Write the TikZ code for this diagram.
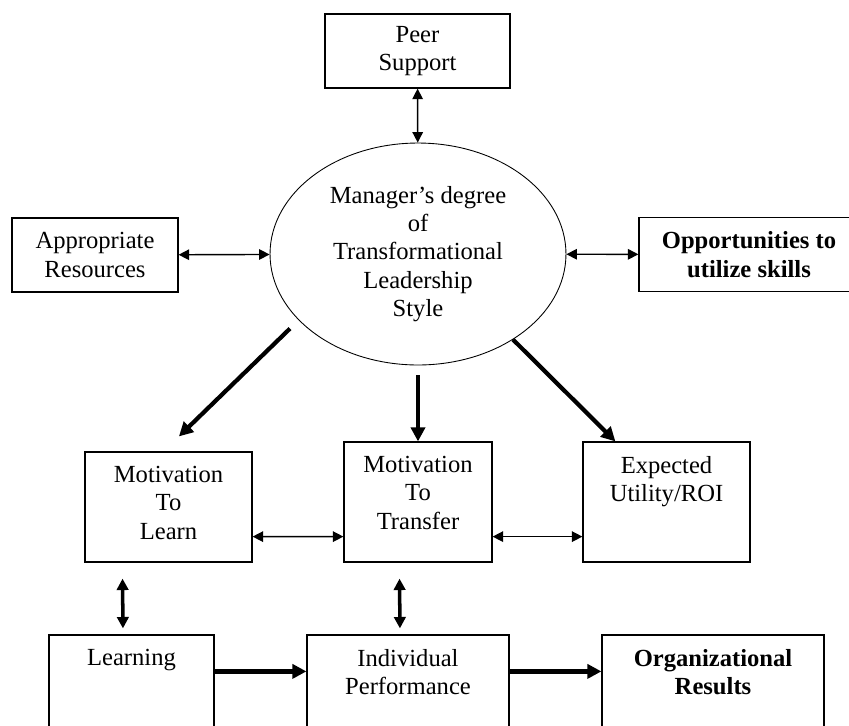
\documentclass[tikz,border=0pt]{standalone}
\usepackage{fontspec}
\setmainfont{Liberation Serif}
\usetikzlibrary{shapes,arrows.meta,positioning,calc}

\begin{document}
\begin{tikzpicture}[
  x=0.02cm, y=-0.02cm,
  every node/.style={font=\fontsize{14}{16.1}\selectfont},
  box/.style={rectangle, draw, line width=0.7pt, inner sep=0pt, align=center},
  lbl/.style={anchor=north, align=center, inner sep=0pt},
  oval/.style={ellipse, draw, line width=0.5pt, inner sep=0pt, align=center,
               minimum width=5.92cm, minimum height=4.44cm},
  pair/.style={line width=0.8pt, {Triangle[length=6pt,width=6pt]}-{Triangle[length=6pt,width=6pt]}},
  link/.style={line width=2pt, {Triangle[length=6.5pt,width=6.5pt]}-{Triangle[length=6.5pt,width=6.5pt]}},
  push/.style={line width=2.4pt, -{Triangle[length=8pt,width=8pt]}}
]
  \useasboundingbox (0,0) rectangle (849,725);
  \clip (0,0) rectangle (849,725);

  % top: leadership and its three supports
  \node[box, minimum width=3.7cm, minimum height=1.48cm] (peer) at (417.5,51) {Peer\\Support};
  \node[oval] (mgr) at (418,254) {Manager’s degree\\of\\Transformational\\Leadership\\Style};
  \node[box, minimum width=3.32cm, minimum height=1.48cm] (res) at (95,255) {Appropriate\\Resources};
  \node[box, minimum width=4.4cm, minimum height=1.48cm,
        font=\fontsize{14}{16.1}\selectfont\bfseries] (opp) at (749,254.5) {Opportunities to\\utilize skills};

  % middle row
  \node[box, minimum width=3.34cm, minimum height=2.2cm] (mtl) at (168.5,507) {};
  \node[lbl] (mtl-t) at ([yshift=-0.29cm]mtl.north) {Motivation\\To\\Learn};
  \node[box, minimum width=2.96cm, minimum height=2.4cm] (mtt) at (418,502) {};
  \node[lbl] (mtt-t) at ([yshift=-0.29cm]mtt.north) {Motivation\\To\\Transfer};
  \node[box, minimum width=3.34cm, minimum height=2.4cm] (eu) at (666.5,502) {};
  \node[lbl] (eu-t) at ([yshift=-0.29cm]eu.north) {Expected\\Utility/ROI};

  % bottom row
  \node[box, minimum width=3.3cm, minimum height=2.2cm] (lrn) at (131.5,690) {};
  \node[lbl] (lrn-t) at ([yshift=-0.29cm]lrn.north) {Learning};
  \node[box, minimum width=4.04cm, minimum height=2.2cm] (ind) at (408,690) {};
  \node[lbl] (ind-t) at ([yshift=-0.29cm]ind.north) {Individual\\Performance};
  \node[box, minimum width=4.44cm, minimum height=2.2cm] (org) at (713,690) {};
  \node[lbl, font=\fontsize{14}{16.1}\selectfont\bfseries] (org-t) at ([yshift=-0.29cm]org.north) {Organizational\\Results};

  \draw[pair] (peer) -- (mgr);
  \draw[pair] (res) -- (mgr);
  \draw[pair] (mgr) -- (opp);
  \draw[pair] ([yshift=0.52cm]mtl.south east) -- ([yshift=0.52cm]mtt.south west);
  \draw[pair] ([yshift=0.52cm]mtt.south east) -- ([yshift=0.52cm]eu.south west);

  \draw[push, shorten <=0.24cm, shorten >=0.43cm] (mgr.209) -- ([xshift=-0.1cm]mtl.north);
  \draw[push, shorten <=0.2cm] (mgr.south) -- (mtt.north);
  \draw[push] (mgr.318) -- ([xshift=0.66cm]eu.north west);

  \draw[link, shorten <=0.32cm, shorten >=0.12cm] ([xshift=0.76cm]mtl.south west) -- ([xshift=-0.17cm]lrn.north);
  \draw[link, shorten <=0.32cm, shorten >=0.12cm] ([xshift=1.12cm]mtt.south west) -- ([xshift=-0.16cm]ind.north);

  \draw[push] ([yshift=-0.74cm]lrn.north east) -- ([yshift=-0.74cm]ind.north west);
  \draw[push] ([yshift=-0.74cm]ind.north east) -- ([yshift=-0.74cm]org.north west);
\end{tikzpicture}
\end{document}
